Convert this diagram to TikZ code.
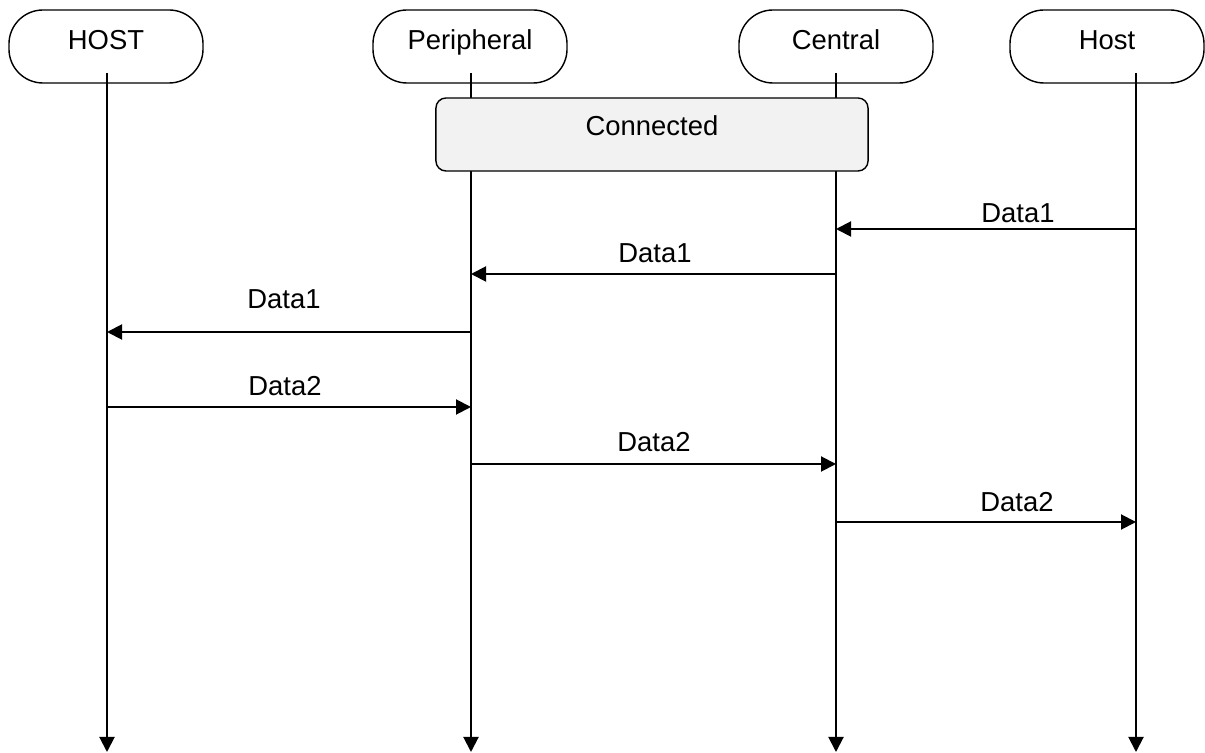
\documentclass[tikz,border=0pt]{standalone}
\usepackage{fontspec}
\setmainfont{Liberation Sans}
\usetikzlibrary{arrows.meta}
\definecolor{G}{RGB}{242, 242, 242}

\begin{document}
\begin{tikzpicture}[x=0.025cm, y=-0.025cm,
  every node/.style={font=\fontsize{19.5}{23}\selectfont},
  head/.style={draw, line width=1pt, rounded corners=0.85cm, minimum width=4.85cm,
    minimum height=1.825cm, text height=0.75em, text depth=0.3em},
  conn/.style={draw, line width=1pt, fill=G, rounded corners=0.25cm, minimum width=10.8cm,
    minimum height=1.825cm, text height=0.75em, text depth=0.65em},
  life/.style={line width=1.4pt, -{Triangle[length=0.375cm, width=0.375cm]}},
  msg/.style={line width=1.4pt, -{Triangle[length=0.375cm, width=0.375cm]}},
  lbl/.style={inner sep=0pt}]
  \useasboundingbox (0,0) rectangle (1205,753);
  % heads
  \node[head] (HOST) at (106,46.5) {HOST};
  \node[head] (Peripheral) at (470,46.5) {Peripheral};
  \node[head] (Central) at (836,46.5) {Central};
  \node[head] (Host) at (1107,46.5) {Host};
  % lifelines
  \coordinate (HOSTtop) at (107,73);  \coordinate (HOSTend) at (107,752);
  \coordinate (Ptop) at (471,73);     \coordinate (Pend) at (471,752);
  \coordinate (Ctop) at (836,73);     \coordinate (Cend) at (836,752);
  \coordinate (Hosttop) at (1136,73); \coordinate (Hostend) at (1136,752);
  \draw[life] (HOSTtop) -- (HOSTend);
  \draw[life] (Ptop) -- (Pend);
  \draw[life] (Ctop) -- (Cend);
  \draw[life] (Hosttop) -- (Hostend);
  % state
  \node[conn] (Connected) at (652,134.5) {Connected};
  % Data1
  \coordinate (d1a) at (1136,229); \coordinate (d1b) at (836,229);
  \draw[msg] (d1a) -- (d1b);
  \node[lbl] (l1) at (1018,213) {Data1};
  \coordinate (d2a) at (836,274); \coordinate (d2b) at (471,274);
  \draw[msg] (d2a) -- (d2b);
  \node[lbl] (l2) at (655,253) {Data1};
  \coordinate (d3a) at (471,332); \coordinate (d3b) at (107,332);
  \draw[msg] (d3a) -- (d3b);
  \node[lbl] (l3) at (284,299) {Data1};
  % Data2
  \coordinate (d4a) at (107,407); \coordinate (d4b) at (471,407);
  \draw[msg] (d4a) -- (d4b);
  \node[lbl] (l4) at (285,386) {Data2};
  \coordinate (d5a) at (471,464); \coordinate (d5b) at (836,464);
  \draw[msg] (d5a) -- (d5b);
  \node[lbl] (l5) at (654,442) {Data2};
  \coordinate (d6a) at (836,522); \coordinate (d6b) at (1136,522);
  \draw[msg] (d6a) -- (d6b);
  \node[lbl] (l6) at (1017,502) {Data2};
\end{tikzpicture}
\end{document}
